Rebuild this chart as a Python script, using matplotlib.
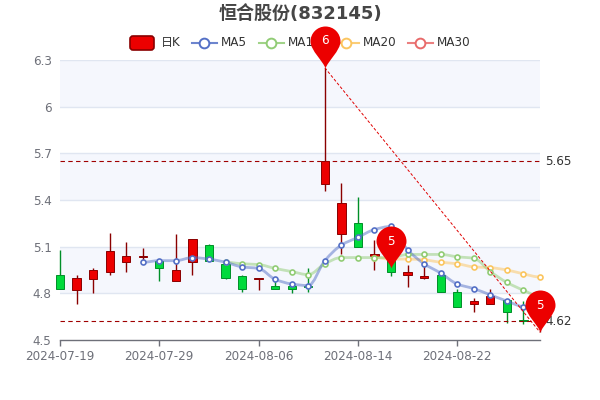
import numpy as np
import matplotlib
matplotlib.use('Agg')
import matplotlib.pyplot as plt
from matplotlib.path import Path
from matplotlib.patches import PathPatch, Rectangle, FancyBboxPatch
from matplotlib.lines import Line2D
from matplotlib.transforms import Affine2D

plt.rcParams['font.family'] = ['DejaVu Sans', 'Noto Sans CJK SC']

nan = float('nan')
dates = ['2024-07-19', '2024-07-29', '2024-08-06', '2024-08-14', '2024-08-22']
date_idx = [0, 6, 12, 18, 24]
yticks = [4.5, 4.8, 5.1, 5.4, 5.7, 6, 6.3]

opens = [4.92, 4.82, 4.89, 4.94, 5.00, 5.035, 5.01, 4.88, 5.00, 5.11,
         4.99, 4.91, 4.89, 4.85, 4.85, 4.85, 5.50, 5.18, 5.25, 5.04,
         5.02, 4.92, 4.90, 4.92, 4.81, 4.73, 4.73, 4.76, 4.63, 4.60]
closes = [4.83, 4.90, 4.95, 5.07, 5.04, 5.04, 4.96, 4.95, 5.15, 5.01,
          4.90, 4.83, 4.90, 4.83, 4.83, 4.84, 5.65, 5.38, 5.10, 5.05,
          4.94, 4.94, 4.91, 4.81, 4.71, 4.75, 4.78, 4.68, 4.62, 4.62]
highs = [5.08, 4.92, 4.96, 5.19, 5.13, 5.09, 5.01, 5.18, 5.15, 5.12,
         4.99, 4.92, 4.90, 4.88, 4.87, 4.96, 6.25, 5.51, 5.42, 5.14,
         5.02, 4.98, 4.99, 4.92, 4.83, 4.77, 4.83, 4.76, 4.75, 4.66]
lows = [4.83, 4.73, 4.80, 4.92, 4.94, 5.01, 4.88, 4.88, 4.92, 5.01,
        4.89, 4.81, 4.82, 4.83, 4.80, 4.81, 5.46, 5.05, 5.10, 4.95,
        4.91, 4.84, 4.89, 4.81, 4.71, 4.68, 4.73, 4.61, 4.60, 4.55]

ma5 = [nan, nan, nan, nan, nan, 5.00, 5.01, 5.01, 5.03, 5.02,
       5.00, 4.97, 4.96, 4.89, 4.86, 4.85, 5.01, 5.11, 5.16, 5.21,
       5.23, 5.08, 4.99, 4.93, 4.86, 4.83, 4.79, 4.75, 4.71, 4.68]
ma10 = [nan] * 10 + [5.00, 4.99, 4.985, 4.96, 4.94, 4.92, 4.99, 5.03, 5.03, 5.03,
                     5.03, 5.05, 5.05, 5.05, 5.035, 5.025, 4.94, 4.87, 4.82, 4.78]
ma20 = [nan] * 19 + [5.03, 5.02, 5.02, 5.015, 5.00, 4.99, 4.97, 4.965, 4.95, 4.925, 4.905]
ma30 = [nan] * 29 + [4.72]

pin_idx = [16, 20, 29]
pin_val = [6.25, 4.96, 4.55]
pin_txt = ['6', '5', '5']
level_vals = [5.65, 4.62]

RED = '#ec0000'
RED_DK = '#8a0000'
GREEN = '#00da3c'
GREEN_DK = '#008f28'
GREY = '#6e7079'

fig = plt.figure(figsize=(6, 4), dpi=100)
ax = fig.add_axes([60 / 600, 60 / 400, 480 / 600, 280 / 400])
ax.set_xlim(0, 29)
ax.set_ylim(4.5, 6.3)
ax.patch.set_alpha(0)
# pixel coords of the whole picture, for the legend
px = Affine2D().scale(1 / 600, -1 / 400).translate(0, 1) + fig.transFigure

for lo, hi in [(6, 6.3), (5.4, 5.7), (4.8, 5.1)]:
    ax.axhspan(lo, hi, color='#f5f7fd', lw=0, zorder=0)
for v in yticks[1:]:
    ax.axhline(v, color='#e0e6f1', lw=1, zorder=1)

for s in ['top', 'left', 'right']:
    ax.spines[s].set_visible(False)
ax.spines['bottom'].set_color(GREY)
ax.spines['bottom'].set_linewidth(1)
ax.set_yticks(yticks)
ax.set_yticklabels([str(v) for v in yticks])
ax.set_xticks(date_idx)
ax.set_xticklabels(dates)
ax.tick_params(axis='y', length=0, pad=6, labelsize=8.64, labelcolor=GREY)
ax.tick_params(axis='x', length=4, width=1, color=GREY, pad=3, labelsize=8.64, labelcolor=GREY)

# candles
for i in range(len(opens)):
    up = closes[i] >= opens[i]
    face = RED if up else GREEN
    edge = RED_DK if up else GREEN_DK
    ax.plot([i, i], [lows[i], highs[i]], color=edge, lw=1, zorder=3, clip_on=False,
            solid_capstyle='butt')
    bot = min(opens[i], closes[i])
    ax.add_patch(Rectangle((i - 0.25, bot), 0.5, abs(closes[i] - opens[i]), facecolor=face,
                           edgecolor=edge, lw=0.7, zorder=4, clip_on=False))


def smooth_path(x, y, k=0.35):
    # bezier through the points, flat at local turns like echarts smooth lines
    verts = [(x[0], y[0])]
    codes = [Path.MOVETO]
    t = []
    for i in range(len(x)):
        if i == 0 or i == len(x) - 1:
            t.append(0.0)
        else:
            a, b = y[i] - y[i - 1], y[i + 1] - y[i]
            t.append(0.0 if a * b <= 0 else 2 * a * b / (a + b))
    for i in range(len(x) - 1):
        verts += [(x[i] + k, y[i] + t[i] * k), (x[i + 1] - k, y[i + 1] - t[i + 1] * k), (x[i + 1], y[i + 1])]
        codes += [Path.CURVE4] * 3
    return Path(verts, codes)


def draw_ma(vals, color):
    vals = np.array(vals)
    xs = np.arange(len(vals))[~np.isnan(vals)]
    ys = vals[~np.isnan(vals)]
    if len(xs) > 1:
        ax.add_patch(PathPatch(smooth_path(xs, ys), fill=False, edgecolor=color, alpha=0.5,
                               lw=2, zorder=5, clip_on=False))
    ax.plot(xs, ys, ls='none', marker='o', ms=3.6, mfc='white', mec=color, mew=1.2,
            zorder=6, clip_on=False)


draw_ma(ma30, '#e86a6a')
draw_ma(ma20, '#fbc55f')
draw_ma(ma10, '#91cc75')
draw_ma(ma5, '#5470c6')

# level lines and the high-low line
for v in level_vals:
    ax.plot([0, 29], [v, v], color='#a00000', lw=0.8, ls=(0, (4, 3)), zorder=7)
    ax.text(29, v, str(v), transform=ax.transData + Affine2D().translate(5, 0), va='center', ha='left',
            fontsize=8.64, color='#333333', zorder=7)
ax.plot([pin_idx[0], pin_idx[2]], [pin_val[0], pin_val[2]], color='#e00000', lw=0.7, ls=(0, (3, 2)),
        zorder=7, clip_on=False)

# pins, tip sits on the value
r = 15.0
cy = -27.0
c = 0.5523 * r
pin = Path([(0, 0), (-2, -7), (-r, cy + 9), (-r, cy),
            (-r, cy - c), (-c, cy - r), (0, cy - r),
            (c, cy - r), (r, cy - c), (r, cy),
            (r, cy + 9), (2, -7), (0, 0), (0, 0)],
           [Path.MOVETO, Path.CURVE4, Path.CURVE4, Path.CURVE4,
            Path.CURVE4, Path.CURVE4, Path.CURVE4,
            Path.CURVE4, Path.CURVE4, Path.CURVE4,
            Path.CURVE4, Path.CURVE4, Path.CURVE4, Path.CLOSEPOLY])
pin = pin.transformed(Affine2D().scale(1, -1))
size = 2 * np.abs(pin.vertices).max() * 0.72
for i, v, t in zip(pin_idx, pin_val, pin_txt):
    ax.plot([i], [v], marker=pin, ms=size, mfc=RED, mec=RED, mew=0, ls='none', zorder=9, clip_on=False)
    ax.annotate(t, (i, v), xytext=(0, 27 * 0.72), textcoords='offset points', ha='center', va='center',
                color='white', fontsize=8.64, zorder=10)

# title
ax.text(300, 14.5, '恒合股份(832145)', transform=px, ha='center', va='center', fontsize=13,
        fontweight='bold', color='#464646', clip_on=False)

# legend, drawn by hand so it sits under the first pin
ax.add_patch(FancyBboxPatch((130, 36), 24, 14, boxstyle='round,pad=0,rounding_size=3', transform=px,
                            facecolor=RED, edgecolor=RED_DK, lw=1.2, zorder=2, clip_on=False))
ax.text(160.5, 42.5, '日K', transform=px, ha='left', va='center', fontsize=8.64, color='#333333', zorder=2)
legend_names = ['MA5', 'MA10', 'MA20', 'MA30']
legend_cols = ['#5470c6', '#91cc75', '#fbc55f', '#e86a6a']
legend_x = [204, 271, 346, 420]
for name, col, lx in zip(legend_names, legend_cols, legend_x):
    ax.add_line(Line2D([lx - 12.5, lx + 12.5], [42.5, 42.5], transform=px, color=col, lw=1.5, alpha=0.85,
                       zorder=2, clip_on=False))
    ax.add_line(Line2D([lx], [42.5], transform=px, marker='o', ms=7, mfc='white', mec=col, mew=1.4,
                       zorder=2, clip_on=False))
    ax.text(lx + 17, 42.5, name, transform=px, ha='left', va='center', fontsize=8.64, color='#333333', zorder=2)

fig.savefig('out.png', dpi=100)
